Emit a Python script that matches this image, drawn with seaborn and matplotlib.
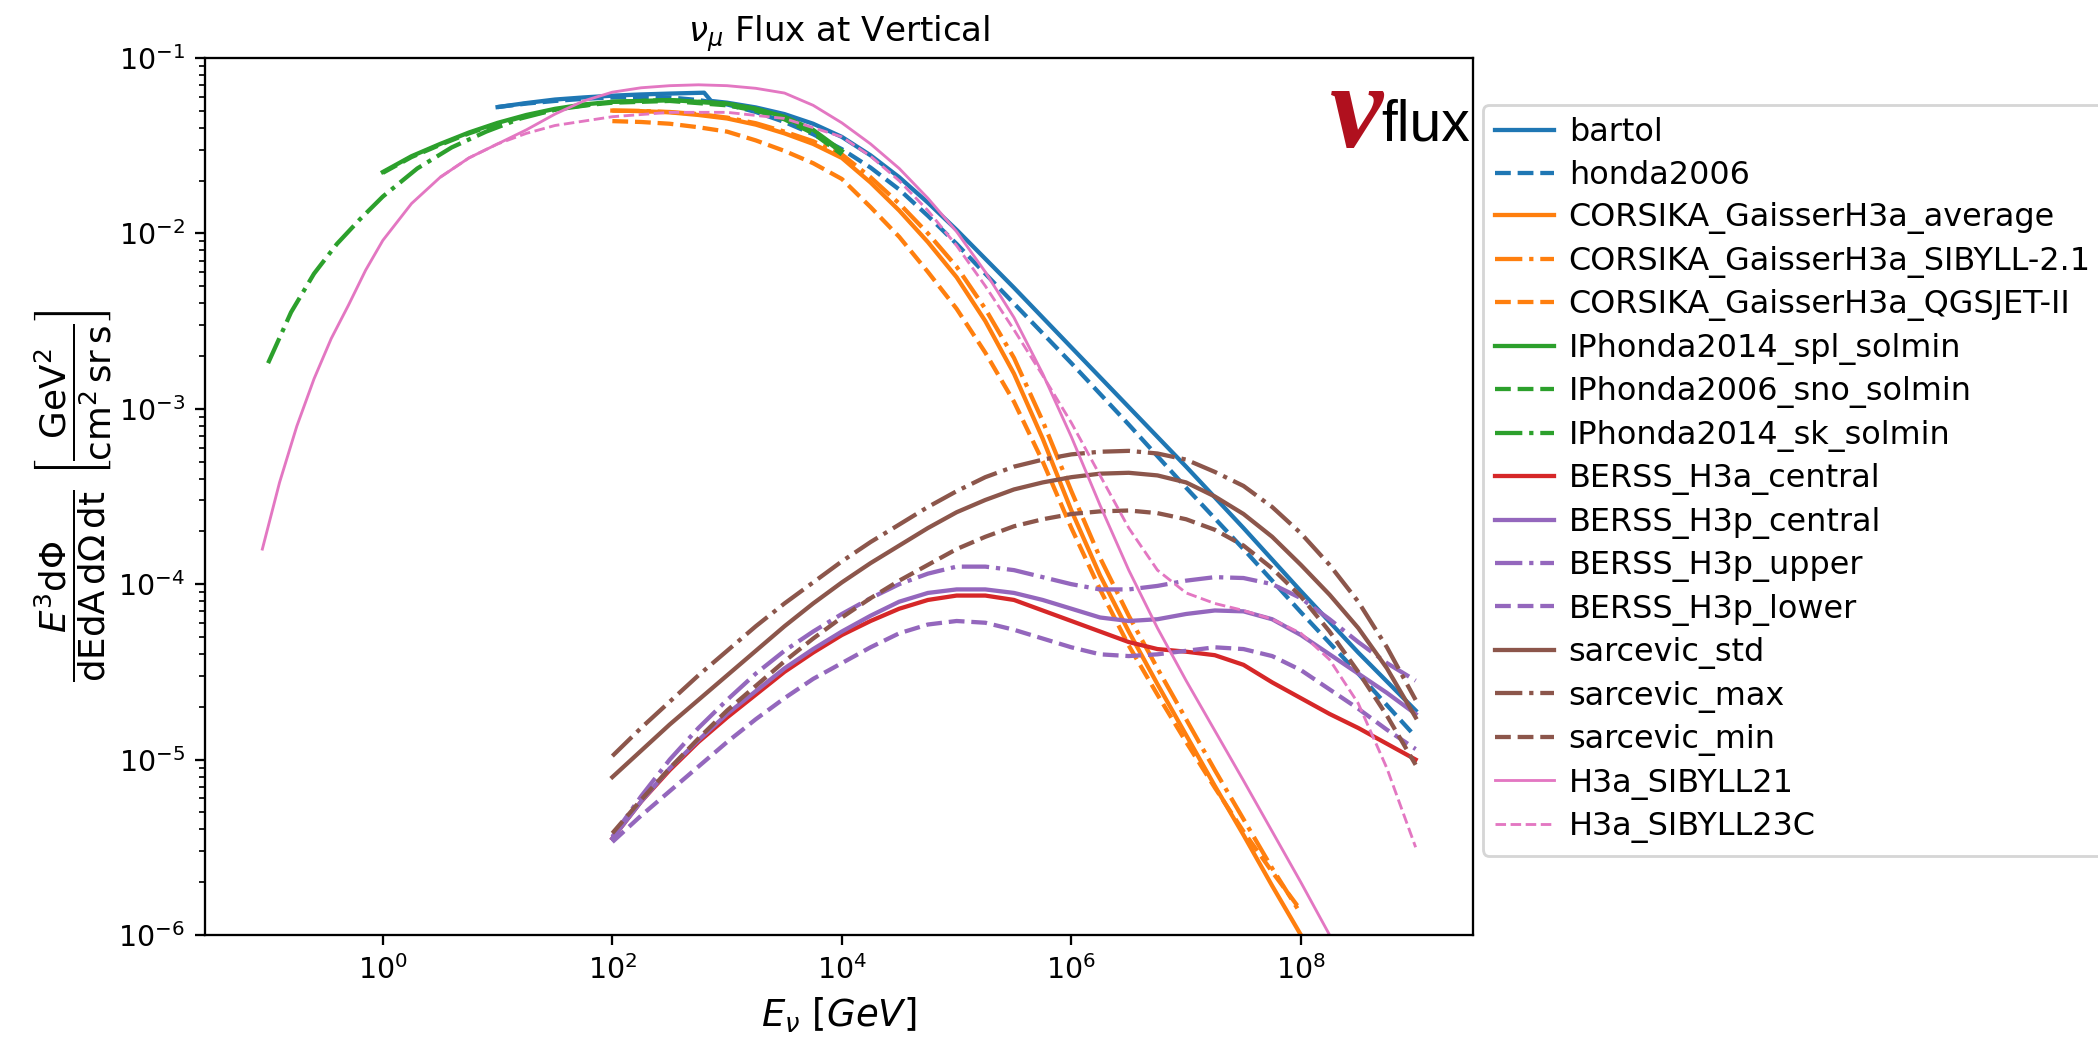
import numpy as np
import matplotlib
matplotlib.use("Agg")
import matplotlib.pyplot as plt
import seaborn as sns

# ---------------- data: log10(E / GeV) and log10(E^3 dPhi/(dE dA dOmega dt)) ----------------
bartol_logE = [1.0, 1.25, 1.5, 1.75, 2.0, 2.25, 2.5, 2.8, 2.86, 3.0, 3.25, 3.5, 3.75, 4.0, 4.25, 4.5, 4.75,
               5.0, 5.25, 5.5, 5.75, 6.0, 6.5, 7.0, 7.5, 8.0, 8.5, 9.0]
bartol_logF = [-1.28, -1.257, -1.237, -1.225, -1.215, -1.208, -1.203, -1.198, -1.245, -1.255, -1.282, -1.32,
               -1.375, -1.45, -1.555, -1.68, -1.825, -1.98, -2.145, -2.31, -2.48, -2.65, -2.99, -3.33, -3.68,
               -4.04, -4.39, -4.72]

honda2006_logE = [1.0, 1.25, 1.5, 1.75, 2.0, 2.25, 2.5, 2.75, 3.0, 3.25, 3.5, 3.75, 4.0, 4.25, 4.5, 4.75,
                  5.0, 5.25, 5.5, 5.75, 6.0, 6.5, 7.0, 7.5, 8.0, 8.5, 9.0]
honda2006_logF = [-1.28, -1.26, -1.245, -1.233, -1.225, -1.222, -1.225, -1.24, -1.265, -1.308, -1.365, -1.435,
                  -1.52, -1.625, -1.75, -1.90, -2.06, -2.23, -2.40, -2.57, -2.74, -3.09, -3.45, -3.80, -4.16,
                  -4.51, -4.87]

corsika_logE = [2.0, 2.25, 2.5, 2.75, 3.0, 3.25, 3.5, 3.75, 4.0, 4.25, 4.5, 4.75, 5.0, 5.25, 5.5, 5.75, 6.0,
                6.25, 6.5, 6.75, 7.0, 7.25, 7.5, 7.75, 8.0]
corsika_avg_logF = [-1.30, -1.303, -1.31, -1.325, -1.345, -1.38, -1.43, -1.49, -1.57, -1.71, -1.87, -2.05,
                    -2.25, -2.50, -2.80, -3.17, -3.58, -3.95, -4.27, -4.57, -4.86, -5.15, -5.43, -5.72, -6.0]
corsika_sib_logF = [-1.30, -1.302, -1.308, -1.32, -1.34, -1.372, -1.42, -1.475, -1.55, -1.68, -1.83, -2.00,
                    -2.19, -2.43, -2.71, -3.07, -3.47, -3.85, -4.18, -4.48, -4.77, -5.06, -5.34, -5.62, -5.88]
corsika_qgs_logF = [-1.36, -1.365, -1.375, -1.395, -1.42, -1.47, -1.53, -1.60, -1.69, -1.85, -2.02, -2.22,
                    -2.43, -2.68, -2.96, -3.30, -3.68, -4.03, -4.35, -4.63, -4.90, -5.16, -5.41, -5.64, -5.86]

iphonda_logE = [0.0, 0.25, 0.5, 0.75, 1.0, 1.25, 1.5, 1.75, 2.0, 2.5, 3.0, 3.25, 3.5, 3.75, 4.0]
iphonda_spl_logF = [-1.65, -1.56, -1.49, -1.425, -1.37, -1.325, -1.29, -1.265, -1.25, -1.24, -1.26, -1.29,
                    -1.335, -1.41, -1.53]
iphonda_sno_logF = [-1.655, -1.565, -1.495, -1.43, -1.375, -1.33, -1.295, -1.27, -1.255, -1.245, -1.27, -1.30,
                    -1.35, -1.43, -1.55]
iphonda_sk_logE = [-1.0, -0.8, -0.6, -0.4, -0.2, 0.0, 0.3, 0.6, 0.9, 1.2, 1.5, 2.0, 2.5, 3.0, 3.25, 3.5,
                   3.75, 4.0]
iphonda_sk_logF = [-2.74, -2.45, -2.23, -2.06, -1.92, -1.79, -1.63, -1.51, -1.42, -1.345, -1.295, -1.25,
                   -1.24, -1.26, -1.29, -1.34, -1.415, -1.54]

berss_logE = [2.0, 2.25, 2.5, 2.75, 3.0, 3.25, 3.5, 3.75, 4.0, 4.25, 4.5, 4.75, 5.0, 5.25, 5.5, 5.75, 6.0,
              6.25, 6.5, 6.75, 7.0, 7.25, 7.5, 7.75, 8.0, 8.25, 8.5, 8.75, 9.0]
berss_h3a_logF = [-5.45, -5.24, -5.06, -4.90, -4.76, -4.63, -4.50, -4.39, -4.29, -4.21, -4.14, -4.09, -4.065,
                  -4.065, -4.09, -4.15, -4.21, -4.27, -4.33, -4.37, -4.385, -4.405, -4.46, -4.56, -4.65,
                  -4.74, -4.82, -4.91, -5.0]
berss_h3p_logF = [-5.45, -5.24, -5.05, -4.89, -4.74, -4.61, -4.48, -4.37, -4.27, -4.18, -4.10, -4.05, -4.03,
                  -4.03, -4.05, -4.09, -4.14, -4.19, -4.21, -4.20, -4.17, -4.15, -4.155, -4.20, -4.29, -4.40,
                  -4.51, -4.62, -4.74]
berss_up_logF = [-5.44, -5.21, -5.00, -4.82, -4.66, -4.51, -4.38, -4.27, -4.17, -4.08, -4.00, -3.94, -3.90,
                 -3.90, -3.92, -3.96, -4.00, -4.03, -4.03, -4.01, -3.98, -3.96, -3.965, -4.00, -4.08, -4.20,
                 -4.33, -4.45, -4.55]
berss_lo_logF = [-5.47, -5.32, -5.18, -5.04, -4.90, -4.77, -4.65, -4.54, -4.45, -4.36, -4.28, -4.23, -4.21,
                 -4.22, -4.26, -4.31, -4.36, -4.40, -4.41, -4.40, -4.38, -4.36, -4.37, -4.41, -4.49, -4.60,
                 -4.71, -4.83, -4.94]

sarcevic_logE = [2.0, 2.25, 2.5, 2.75, 3.0, 3.25, 3.5, 3.75, 4.0, 4.25, 4.5, 4.75, 5.0, 5.25, 5.5, 5.75, 6.0,
                 6.25, 6.5, 6.75, 7.0, 7.25, 7.5, 7.75, 8.0, 8.25, 8.5, 8.75, 9.0]
sarcevic_std_logF = [-5.10, -4.95, -4.80, -4.66, -4.52, -4.38, -4.24, -4.11, -3.99, -3.88, -3.78, -3.68, -3.59,
                     -3.52, -3.46, -3.42, -3.39, -3.37, -3.365, -3.38, -3.42, -3.50, -3.60, -3.73, -3.89,
                     -4.06, -4.25, -4.48, -4.76]
sarcevic_max_logF = [-4.98, -4.82, -4.67, -4.52, -4.38, -4.24, -4.11, -3.99, -3.87, -3.76, -3.66, -3.56, -3.47,
                     -3.39, -3.33, -3.29, -3.26, -3.245, -3.24, -3.255, -3.29, -3.36, -3.44, -3.56, -3.71,
                     -3.89, -4.10, -4.36, -4.66]
sarcevic_min_logF = [-5.42, -5.23, -5.05, -4.88, -4.72, -4.58, -4.44, -4.31, -4.19, -4.08, -3.98, -3.89, -3.80,
                     -3.73, -3.67, -3.63, -3.60, -3.585, -3.58, -3.595, -3.63, -3.69, -3.78, -3.91, -4.07,
                     -4.27, -4.50, -4.75, -5.03]

sib21_logE = [-1.05, -0.9, -0.75, -0.6, -0.45, -0.3, -0.15, 0.0, 0.25, 0.5, 0.75, 1.0, 1.25, 1.5, 1.75, 2.0,
              2.25, 2.5, 2.75, 3.0, 3.25, 3.5, 3.75, 4.0, 4.25, 4.5, 4.75, 5.0, 5.25, 5.5, 5.75, 6.0, 6.25,
              6.5, 6.75, 7.0, 7.5, 8.0, 8.5]
sib21_logF = [-3.80, -3.42, -3.10, -2.83, -2.60, -2.41, -2.21, -2.04, -1.83, -1.68, -1.57, -1.49, -1.41, -1.32,
              -1.245, -1.195, -1.17, -1.158, -1.153, -1.158, -1.173, -1.20, -1.27, -1.37, -1.49, -1.63, -1.80,
              -1.99, -2.22, -2.48, -2.80, -3.16, -3.55, -3.92, -4.25, -4.55, -5.12, -5.70, -6.30]

sib23c_logE = [0.5, 0.75, 1.0, 1.25, 1.5, 2.0, 2.5, 3.0, 3.5, 4.0, 4.25, 4.5, 4.75, 5.0, 5.25, 5.5, 5.75, 6.0,
               6.25, 6.5, 6.75, 7.0, 7.25, 7.5, 7.75, 8.0, 8.25, 8.5, 8.75, 9.0]
sib23c_logF = [-1.68, -1.57, -1.49, -1.43, -1.385, -1.335, -1.31, -1.31, -1.345, -1.45, -1.56, -1.70, -1.87,
               -2.07, -2.30, -2.55, -2.81, -3.08, -3.38, -3.68, -3.92, -4.05, -4.11, -4.15, -4.20, -4.28,
               -4.43, -4.68, -5.05, -5.50]

names = ["bartol", "honda2006", "CORSIKA_GaisserH3a_average", "CORSIKA_GaisserH3a_SIBYLL-2.1",
         "CORSIKA_GaisserH3a_QGSJET-II", "IPhonda2014_spl_solmin", "IPhonda2006_sno_solmin",
         "IPhonda2014_sk_solmin", "BERSS_H3a_central", "BERSS_H3p_central", "BERSS_H3p_upper",
         "BERSS_H3p_lower", "sarcevic_std", "sarcevic_max", "sarcevic_min", "H3a_SIBYLL21", "H3a_SIBYLL23C"]

curves = [
    (bartol_logE, bartol_logF), (honda2006_logE, honda2006_logF),
    (corsika_logE, corsika_avg_logF), (corsika_logE, corsika_sib_logF), (corsika_logE, corsika_qgs_logF),
    (iphonda_logE, iphonda_spl_logF), (iphonda_logE, iphonda_sno_logF), (iphonda_sk_logE, iphonda_sk_logF),
    (berss_logE, berss_h3a_logF), (berss_logE, berss_h3p_logF), (berss_logE, berss_up_logF),
    (berss_logE, berss_lo_logF),
    (sarcevic_logE, sarcevic_std_logF), (sarcevic_logE, sarcevic_max_logF), (sarcevic_logE, sarcevic_min_logF),
    (sib21_logE, sib21_logF), (sib23c_logE, sib23c_logF),
]

# ---------------- styles ----------------
pal = sns.color_palette("tab10")
colors = [pal[0], pal[0], pal[1], pal[1], pal[1], pal[2], pal[2], pal[2], pal[3], pal[4], pal[4], pal[4],
          pal[5], pal[5], pal[5], pal[6], pal[6]]
styles = ["-", "--", "-", "-.", "--", "-", "--", "-.", "-", "-", "-.", "--", "-", "-.", "--", "-", "--"]
widths = [1.5] * 15 + [1.0, 1.0]

DPI = 205
fig = plt.figure(figsize=(2098 / DPI, 1037 / DPI), dpi=DPI)
ax = fig.add_axes([0.0977, 0.0984, 0.6044, 0.8457])
ax.set_xscale("log")
ax.set_yscale("log")

for name, (le, lf), c, ls, lw in zip(names, curves, colors, styles, widths):
    sns.lineplot(x=10 ** np.array(le), y=10 ** np.array(lf), ax=ax, color=c, linestyle=ls,
                 linewidth=lw, label=name, sort=False)

ax.set_xlim(10 ** -1.55, 10 ** 9.5)
ax.set_ylim(1e-6, 1e-1)
ax.tick_params(labelsize=10)

ax.set_title(r"$\nu_\mu$ Flux at Vertical", fontsize=12)
ax.set_xlabel(r"$E_\nu\ [GeV]$", fontsize=13)
ax.set_ylabel(r"$\dfrac{E^3\mathrm{d}\Phi}{\mathrm{dEdA\,d}\Omega\,\mathrm{dt}}"
              r"\ \left[\dfrac{\mathrm{GeV}^2}{\mathrm{cm}^2\,\mathrm{sr}\,\mathrm{s}}\right]$",
              fontsize=12.5, labelpad=2)

ax.legend(loc="upper left", bbox_to_anchor=(0.995, 0.965), fontsize=11.2, labelspacing=0.36,
          handlelength=1.85, handletextpad=0.45)

# nu-flux logo
ax.text(0.887, 0.899, "\u03bd", transform=ax.transAxes, color="#b0101e", fontsize=42,
        family=["Liberation Serif", "DejaVu Serif"], fontweight="bold", fontstyle="italic",
        ha="left", va="baseline")
ax.text(0.9274, 0.906, "flux", transform=ax.transAxes, color="black", fontsize=20,
        family=["Liberation Sans", "DejaVu Sans"], ha="left", va="baseline")

fig.savefig("out.png", dpi=DPI)
